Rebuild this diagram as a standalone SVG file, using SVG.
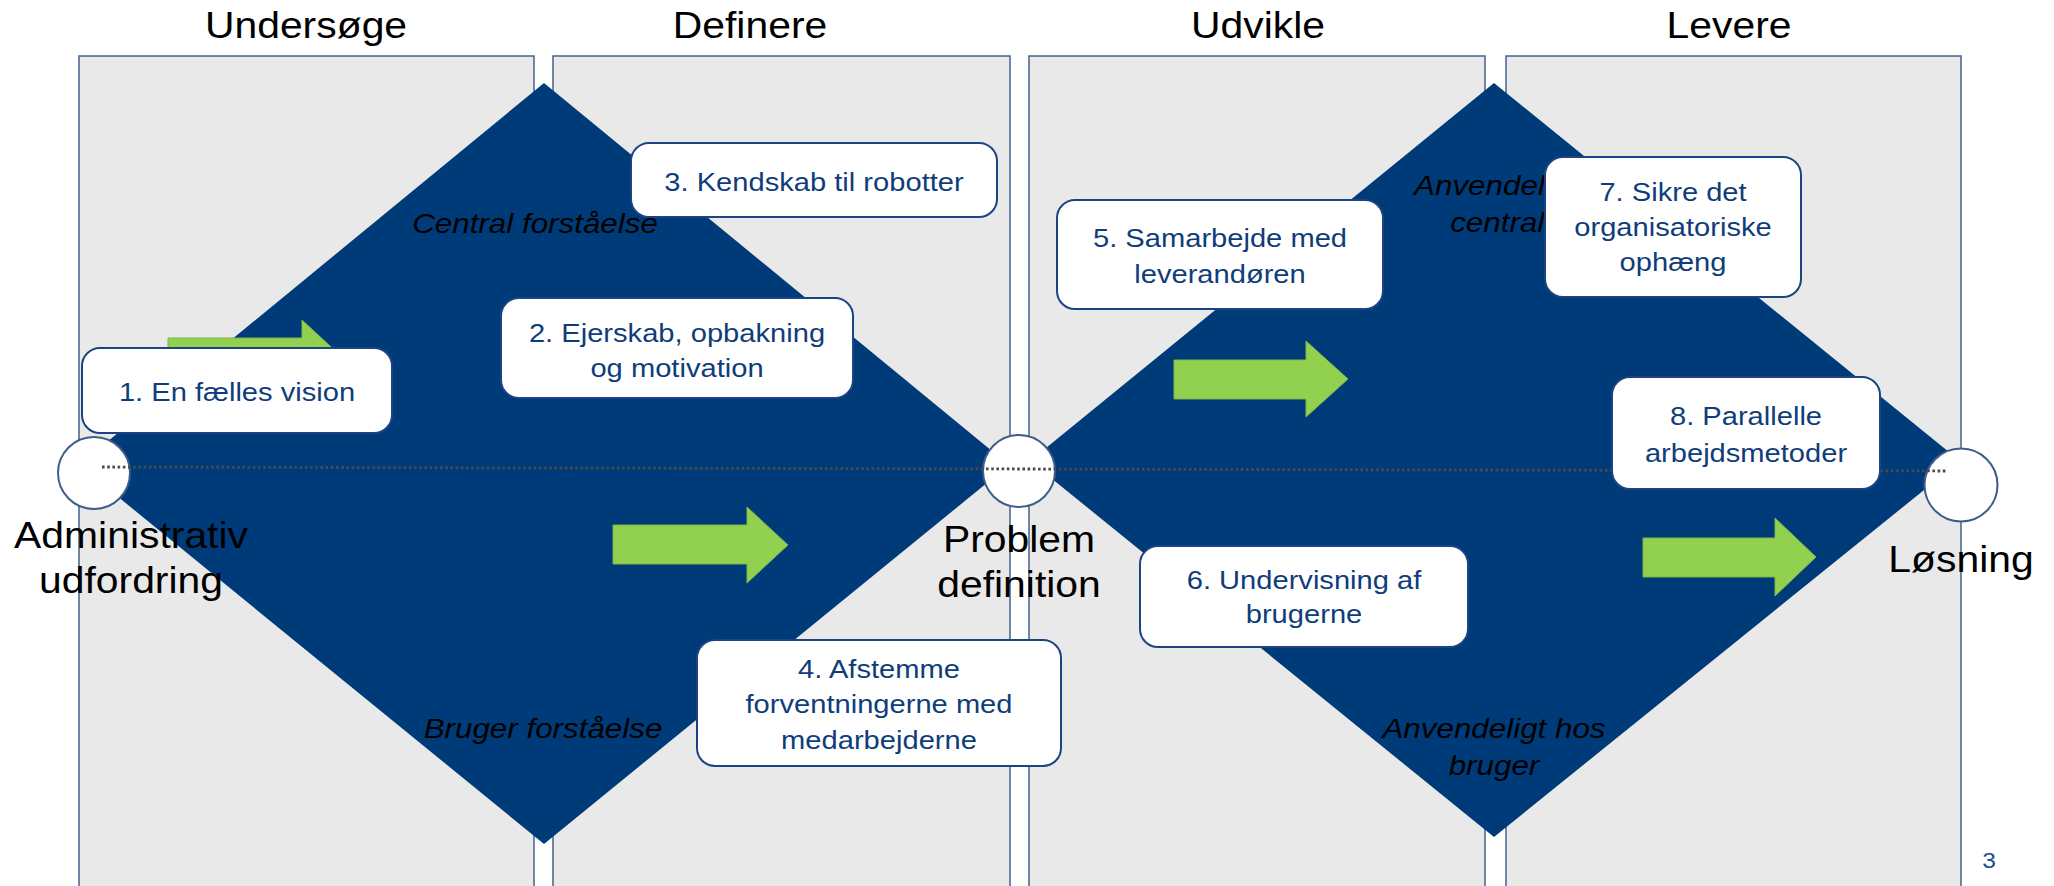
<svg xmlns="http://www.w3.org/2000/svg" width="2054" height="886" viewBox="0 0 2054 886">
<style>
.panel{fill:#E9E9E9;stroke:#45628C;stroke-width:1.5}
.diamond{fill:#003B79}
.arrow{fill:#92D050;stroke:#7FB344;stroke-width:1}
.circ{fill:#FFFFFF;stroke:#3E5D8A;stroke-width:2}
.box{fill:#FFFFFF;stroke:#1B4482;stroke-width:2}
.bt{font-family:"Liberation Sans",Arial,sans-serif;font-size:26px;fill:#0F3D7A;text-anchor:middle}
.it{font-family:"Liberation Sans",Arial,sans-serif;font-style:italic;font-size:28px;fill:#000000;text-anchor:middle}
.lbl{font-family:"Liberation Sans",Arial,sans-serif;font-size:36.5px;fill:#000000;text-anchor:middle}
.pg{font-family:"Liberation Sans",Arial,sans-serif;font-size:22px;fill:#1F4E8C;text-anchor:middle}
.dots{fill:none;stroke:#4A4A4A;stroke-width:2.8;stroke-dasharray:2.6 2.6}
</style>

<g id="phases">
  <rect class="panel" x="79" y="56" width="455" height="850"/>
  <rect class="panel" x="553" y="56" width="457" height="850"/>
  <rect class="panel" x="1029" y="56" width="456" height="850"/>
  <rect class="panel" x="1506" y="56" width="455" height="850"/>
  <text class="lbl" transform="matrix(1.12 0 0 1 306 38)">Undersøge</text>
  <text class="lbl" transform="matrix(1.12 0 0 1 750 38)">Definere</text>
  <text class="lbl" transform="matrix(1.12 0 0 1 1258 38)">Udvikle</text>
  <text class="lbl" transform="matrix(1.12 0 0 1 1729 38)">Levere</text>
</g>

<g id="diamond-1">
  <polygon class="diamond" points="544,83 1009,465 544,844 79,465"/>
  <text class="it" transform="matrix(1.12 0 0 1 535 233)">Central forståelse</text>
  <text class="it" transform="matrix(1.12 0 0 1 543 738)">Bruger forståelse</text>
</g>

<g id="diamond-2">
  <polygon class="diamond" points="1494,83 1960,461 1494,837 1030,461"/>
  <text class="it" transform="matrix(1.12 0 0 1 1496 195)">Anvendeligt<tspan x="5" y="37">centralt</tspan></text>
  <text class="it" transform="matrix(1.12 0 0 1 1494 738)">Anvendeligt hos<tspan x="0" y="37">bruger</tspan></text>
</g>

<g id="flow-arrows">
  <polygon class="arrow" points="168,338 302,338 302,320 343,358 302,396 302,377 168,377"/>
  <polygon class="arrow" points="613,525 747,525 747,507 788,545 747,583 747,564 613,564"/>
  <polygon class="arrow" points="1174,360 1306,360 1306,341 1348,379 1306,417 1306,399 1174,399"/>
  <polygon class="arrow" points="1643,538 1775,538 1775,518 1816,557 1775,596 1775,577 1643,577"/>
</g>

<g id="node-start">
  <circle class="circ" cx="94" cy="473" r="36"/>
  <text class="lbl" transform="matrix(1.12 0 0 1 131 548)">Administrativ<tspan x="0" y="45">udfordring</tspan></text>
</g>
<g id="node-problem">
  <circle class="circ" cx="1019" cy="471" r="36"/>
  <text class="lbl" transform="matrix(1.12 0 0 1 1019 552)">Problem<tspan x="0" y="45">definition</tspan></text>
</g>
<g id="node-solution">
  <circle class="circ" cx="1961" cy="485" r="36.5"/>
  <text class="lbl" transform="matrix(1.12 0 0 1 1961 572)">Løsning</text>
</g>

<g id="connectors">
  <line class="dots" x1="102" y1="467" x2="1948" y2="471"/>
</g>

<g id="box-1">
  <rect class="box" x="82" y="348" width="310" height="85" rx="18"/>
  <text class="bt" transform="matrix(1.12 0 0 1 237 401)">1. En fælles vision</text>
</g>
<g id="box-2">
  <rect class="box" x="501" y="298" width="352" height="100" rx="18"/>
  <text class="bt" transform="matrix(1.12 0 0 1 677 342)">2. Ejerskab, opbakning<tspan x="0" y="35">og motivation</tspan></text>
</g>
<g id="box-3">
  <rect class="box" x="631" y="143" width="366" height="74" rx="18"/>
  <text class="bt" transform="matrix(1.12 0 0 1 814 191)">3. Kendskab til robotter</text>
</g>
<g id="box-4">
  <rect class="box" x="697" y="640" width="364" height="126" rx="18"/>
  <text class="bt" transform="matrix(1.12 0 0 1 879 678)">4. Afstemme<tspan x="0" y="35.5">forventningerne med</tspan><tspan x="0" y="71">medarbejderne</tspan></text>
</g>
<g id="box-5">
  <rect class="box" x="1057" y="200" width="326" height="109" rx="18"/>
  <text class="bt" transform="matrix(1.12 0 0 1 1220 247)">5. Samarbejde med<tspan x="0" y="36">leverandøren</tspan></text>
</g>
<g id="box-6">
  <rect class="box" x="1140" y="546" width="328" height="101" rx="18"/>
  <text class="bt" transform="matrix(1.12 0 0 1 1304 589)">6. Undervisning af<tspan x="0" y="34">brugerne</tspan></text>
</g>
<g id="box-7">
  <rect class="box" x="1545" y="157" width="256" height="140" rx="18"/>
  <text class="bt" transform="matrix(1.12 0 0 1 1673 201)">7. Sikre det<tspan x="0" y="35">organisatoriske</tspan><tspan x="0" y="70">ophæng</tspan></text>
</g>
<g id="box-8">
  <rect class="box" x="1612" y="377" width="268" height="112" rx="18"/>
  <text class="bt" transform="matrix(1.12 0 0 1 1746 425)">8. Parallelle<tspan x="0" y="37">arbejdsmetoder</tspan></text>
</g>

<text class="pg" transform="matrix(1.12 0 0 1 1989 868)">3</text>
</svg>
